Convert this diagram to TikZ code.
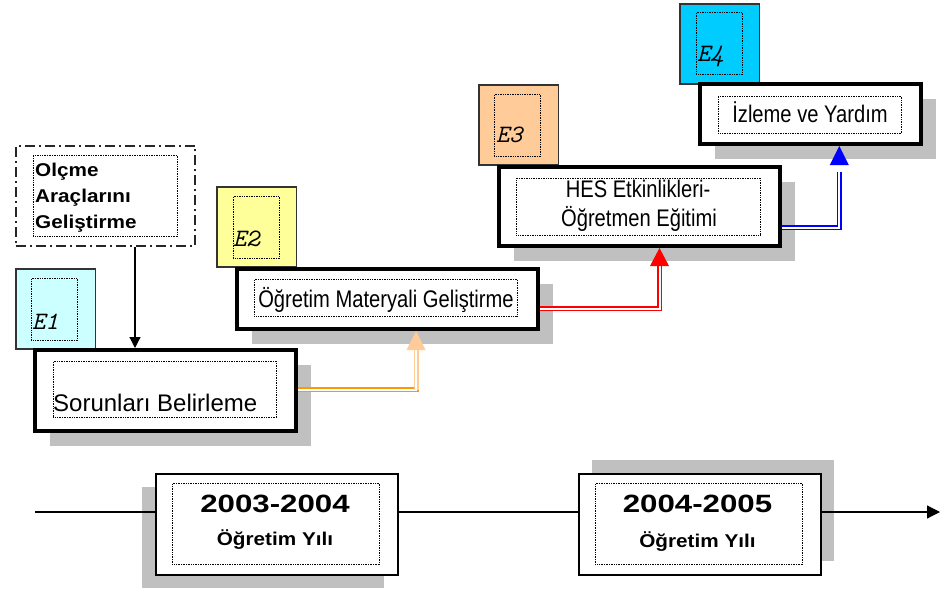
\documentclass[tikz,border=0pt]{standalone}
\usepackage{fontspec}
\setmainfont{Liberation Sans}
\newfontfamily\regfont{Liberation Sans}
\newfontfamily\narrowfont[FakeStretch=0.84]{Liberation Sans}
\newfontfamily\wideboldfont[FakeStretch=1.12]{Liberation Sans}
\newfontfamily\yearfont[FakeStretch=1.25]{Liberation Sans}
\usetikzlibrary{arrows.meta,calc,shadows}
\definecolor{eone}{HTML}{CCFFFF}
\definecolor{etwo}{HTML}{FFFF99}
\definecolor{ethree}{HTML}{FFCC99}
\definecolor{efour}{HTML}{00CCFF}
\definecolor{shadowgray}{HTML}{C0C0C0}
\definecolor{orangeA}{HTML}{FF9900}
\definecolor{orangeB}{HTML}{FFCC99}
\definecolor{redA}{HTML}{FF0000}
\definecolor{blueA}{HTML}{0000FF}
\tikzset{
  stepbox/.style={draw=black, line width=4pt, fill=white, inner sep=0pt, anchor=north west,
    drop shadow={shadow xshift=15pt, shadow yshift=-15pt, fill=shadowgray, opacity=1}},
  ebox/.style={draw=black!80, line width=1.5pt, inner sep=0pt, anchor=north west,
    minimum width=79.5pt, minimum height=80pt},
  einner/.style={draw=black, line width=0.8pt, dash pattern=on 0.8pt off 0.9pt, inner sep=0pt,
    anchor=north west, minimum width=46pt, minimum height=62pt},
  dotbox/.style={draw=black, line width=0.8pt, dash pattern=on 0.8pt off 0.9pt, inner sep=0pt, anchor=north west},
  yearbox/.style={draw=black, line width=1.5pt, fill=white, inner sep=0pt, anchor=north west,
    minimum width=242pt, minimum height=101pt},
  etext/.style={inner sep=0pt, anchor=base west, font=\ttfamily\itshape\fontsize{25}{28}\selectfont},
  steptext/.style={inner sep=0pt, anchor=base, font=\narrowfont\fontsize{24}{28}\selectfont},
  yeartext/.style={inner sep=0pt, anchor=base, font=\yearfont\bfseries\fontsize{25}{28}\selectfont},
  yearsub/.style={inner sep=0pt, anchor=base, font=\wideboldfont\bfseries\fontsize{18.5}{22}\selectfont},
  dbl/.style={double=white, double distance=2pt, line width=1.5pt},
  tline/.style={draw=black, line width=1.2pt},
}
\begin{document}
\begin{tikzpicture}[x=1pt,y=-1pt]
\useasboundingbox (0,0) rectangle (946,589);

% Olcme box
\node[draw=black!85, line width=1.8pt, dash pattern=on 10pt off 4pt on 2pt off 4pt, inner sep=0pt,
  anchor=north west, minimum width=179.2pt, minimum height=100.2pt] (olc) at (15,145) {};
\node[dotbox, minimum width=144.2pt, minimum height=81.2pt] (olcin) at (33,155) {};
\node[inner sep=0pt, anchor=west, align=left, font=\wideboldfont\bfseries\fontsize{18.5}{26}\selectfont]
  (olctxt) at (35,198) {Olçme\\Araçlarını\\Geliştirme};

% E boxes
\node[ebox, fill=eone] (e1) at (15,268) {};
\node[einner] (e1in) at (31,278) {};
\node[etext] (e1txt) at (32,329) {E1};
\node[ebox, fill=etwo] (e2) at (216,186) {};
\node[einner] (e2in) at (233,196) {};
\node[etext] (e2txt) at (233,246) {E2};
\node[ebox, fill=ethree] (e3) at (478,84) {};
\node[einner] (e3in) at (494,94) {};
\node[etext] (e3txt) at (496,142) {E3};
\node[ebox, fill=efour] (e4) at (679,3) {};
\node[einner] (e4in) at (696,12) {};
\node[etext] (e4txt) at (697,61) {E4};

% Step boxes
\node[stepbox, minimum width=261pt, minimum height=81pt] (sor) at (33,348) {};
\node[dotbox, minimum width=223.2pt, minimum height=56.2pt] (sorin) at (53,361) {};
\node[inner sep=0pt, anchor=base west, font=\regfont\fontsize{24}{28}\selectfont] (sortxt) at (53,411) {Sorunları Belirleme};

\node[stepbox, minimum width=301pt, minimum height=60pt] (ogr) at (235,267) {};
\node[dotbox, minimum width=263.2pt, minimum height=37.2pt] (ogrin) at (254,279) {};
\node[steptext] (ogrtxt) at (386,307) {Öğretim Materyali Geliştirme};

\node[stepbox, minimum width=281pt, minimum height=79pt] (hes) at (497,165) {};
\node[dotbox, minimum width=244.2pt, minimum height=57.2pt] (hesin) at (516,178) {};
\node[steptext] (hes1) at (638,197) {HES Etkinlikleri-};
\node[steptext] (hes2) at (639,226) {Öğretmen Eğitimi};

\node[stepbox, minimum width=221pt, minimum height=60pt] (izl) at (698,82) {};
\node[dotbox, minimum width=183.2pt, minimum height=37.2pt] (izlin) at (718,96) {};
\node[steptext] (izltxt) at (810,122) {İzleme ve Yardım};

% Olcme arrow
\coordinate (ax) at (135,0);
\draw[line width=1.2pt, -{Triangle[length=11pt,width=11pt]}] (olc.south -| ax) -- (sor.north -| ax);

% Orange connector
\coordinate (oc) at (416,389.5);
\coordinate (otip) at (oc |- ogr.south);
\coordinate (obase) at ($(otip)+(0,19)$);
\draw[dbl, draw=orangeA] (sor.east |- oc) -- (oc) -- (obase);
\draw[dbl, draw=orangeB] (oc) -- (obase);
\fill[orangeB] (otip) -- ($(otip)+(-9.5,19)$) -- ($(otip)+(9.5,19)$) -- cycle;

% Red connector
\coordinate (rc) at (659.5,308.7);
\coordinate (rtip) at (rc |- hes.south);
\coordinate (rbase) at ($(rtip)+(0,18)$);
\draw[dbl, draw=redA] (ogr.east |- rc) -- (rc) -- (rbase);
\fill[redA] (rtip) -- ($(rtip)+(-9.5,18)$) -- ($(rtip)+(9.5,18)$) -- cycle;

% Blue connector
\coordinate (bc) at (839.3,227.7);
\coordinate (btip) at (bc |- izl.south);
\coordinate (bline) at ($(btip)+(0,26)$);
\draw[dbl, draw=blueA] (hes.east |- bc) -- (bc) -- (bline);
\fill[blueA] (btip) -- ($(btip)+(-9.5,19)$) -- ($(btip)+(9.5,19)$) -- cycle;

% Year boxes
\node[yearbox, drop shadow={shadow xshift=-14pt, shadow yshift=-13pt, fill=shadowgray, opacity=1}] (y1) at (155,473) {};
\node[dotbox, minimum width=207.2pt, minimum height=81.2pt] (y1in) at (172,483) {};
\node[yeartext] (y1a) at (275,512) {2003-2004};
\node[yearsub] (y1b) at (275,545) {Öğretim Yılı};

\node[yearbox, drop shadow={shadow xshift=13pt, shadow yshift=14pt, fill=shadowgray, opacity=1}] (y2) at (578,473) {};
\node[dotbox, minimum width=207.2pt, minimum height=81.2pt] (y2in) at (595,483) {};
\node[yeartext] (y2a) at (697.5,512) {2004-2005};
\node[yearsub] (y2b) at (697.5,547) {Öğretim Yılı};

% Timeline
\coordinate (tl0) at (35,512);
\coordinate (tl1) at (940,512);
\draw[tline] (tl0) -- (y1.west |- tl0);
\draw[tline] (y1.east |- tl0) -- (y2.west |- tl0);
\draw[tline, -{Triangle[length=13pt,width=13pt]}] (y2.east |- tl0) -- (tl1);
\end{tikzpicture}
\end{document}
